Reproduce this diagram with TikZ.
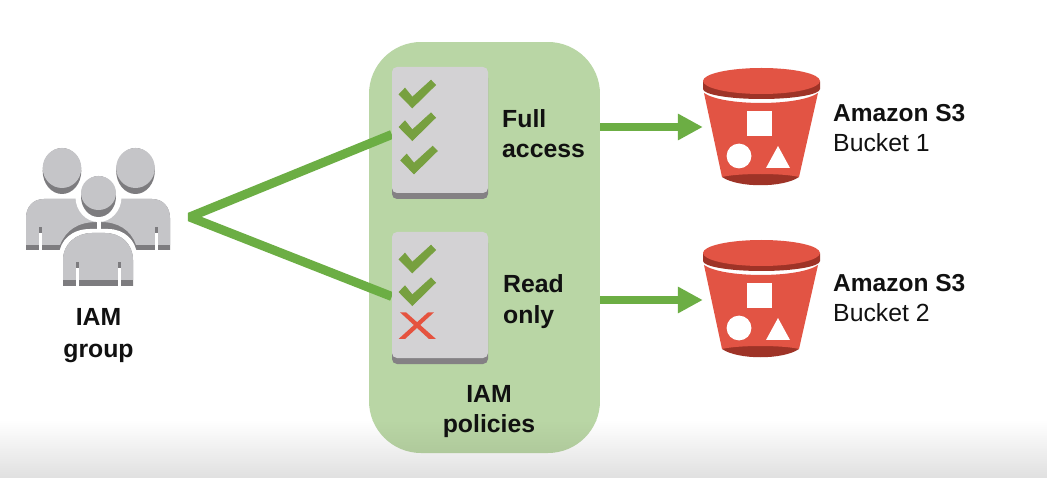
\documentclass[tikz,border=0pt]{standalone}
\usepackage{fontspec}
\setmainfont{Liberation Sans}
\usetikzlibrary{arrows.meta}
\definecolor{panelgreen}{HTML}{B9D6A5}
\definecolor{panelgreenb}{HTML}{AFC99B}
\definecolor{linkgreen}{HTML}{6CAE44}
\definecolor{checkgreen}{HTML}{77A03F}
\definecolor{cardgrey}{HTML}{D3D2D4}
\definecolor{cardshade}{HTML}{848184}
\definecolor{crossred}{HTML}{E5533F}
\definecolor{bucketred}{HTML}{E25444}
\definecolor{bucketdark}{HTML}{9E3327}
\definecolor{peoplelight}{HTML}{C5C5C8}
\definecolor{peopledark}{HTML}{7D7C7F}
\definecolor{floorgrey}{HTML}{E0E0E0}
\definecolor{textblack}{HTML}{111111}
\tikzset{
  x=1pt,y=-1pt,
  labeltext/.style={inner sep=0pt,text=textblack,font=\fontsize{24.8}{30.2}\selectfont,align=left},
  boldlabel/.style={labeltext,font=\fontsize{24.8}{30.2}\selectfont\bfseries},
  link/.style={linkgreen,line width=9pt},
  arrowlink/.style={linkgreen,line width=8.5pt,-{Triangle[length=25pt,width=25pt]}},
  cardbox/.style={draw=none,fill=none,minimum width=96pt,minimum height=132pt,inner sep=0pt},
  bucketbox/.style={draw=none,fill=none,minimum width=117pt,minimum height=117pt,inner sep=0pt},
}
\newcommand{\cardart}[2]{% x y top-left
  \begin{scope}[shift={(#1,#2)}]
    \fill[cardshade,rounded corners=5pt] (0,6) rectangle (96,132);
    \fill[cardgrey,rounded corners=5pt] (0,0) rectangle (96,126);
  \end{scope}}
\newcommand{\tickart}[2]{% x y of the tick's bottom vertex
  \filldraw[fill=checkgreen,draw=checkgreen,line width=.8pt,shift={(#1,#2)}] (0,-.5) -- (-13.2,-14) -- (-7.3,-20) -- (0,-11) -- (18.7,-28) -- (23.2,-23.3) -- cycle;}
\newcommand{\bucketart}[2]{%
  \begin{scope}[shift={(#1,#2)}]
    % bottom rim
    \fill[bucketdark] (19,109) -- (22,100) -- (94,100) -- (96,109) .. controls (80,120) and (35,120) .. (19,109) -- cycle;
    % body
    \fill[bucketred] (1,25) .. controls (20,38.3) and (96,38.3) .. (115,25) -- (96,109) .. controls (80,105) and (35,105) .. (19,109) -- cycle;
    % lid
    \fill[bucketdark] (0,13.5) -- (0,21) arc[start angle=180,end angle=0,x radius=58.5,y radius=10] -- (117,13.5) -- cycle;
    \fill[bucketred] (58.5,13) ellipse[x radius=58.5,y radius=13];
    % symbols
    \fill[white] (44,43) rectangle (69,68);
    \fill[white] (36,88) circle[radius=12.4];
    \fill[white] (63,100) -- (87,100) -- (75,78) -- cycle;
  \end{scope}}
\begin{document}
\begin{tikzpicture}
\useasboundingbox (0,0) rectangle (1047,478);
\fill[white] (0,0) rectangle (1047,478);
\shade[top color=white,bottom color=floorgrey] (0,420) rectangle (1047,478);
% policy panel
\begin{scope}
  \clip[rounded corners=52pt] (369,42) rectangle (600,453);
  \fill[panelgreen] (369,42) rectangle (600,421);
  \shade[top color=panelgreen,bottom color=panelgreenb] (369,420) rectangle (600,453);
\end{scope}
\node[draw=none,fill=none,minimum width=231pt,minimum height=411pt,inner sep=0pt] (panel) at (484.5,247.5) {};
% people
\fill[peopledark] (62,171) ellipse[x radius=19.3,y radius=23];
\fill[peoplelight] (62,168) ellipse[x radius=19.3,y radius=20];
\fill[peopledark] (135.5,171) ellipse[x radius=19.3,y radius=23];
\fill[peoplelight] (135.5,168) ellipse[x radius=19.3,y radius=20];
\fill[peopledark] (26,250) -- (26,218) .. controls (26,207) and (33,199) .. (44,199) -- (78,199) -- (97,222) -- (97,230) -- (97,250) -- cycle;
\fill[peoplelight] (26,245) -- (26,218) .. controls (26,207) and (33,199) .. (44,199) -- (78,199) -- (97,222) .. controls (78,222) and (66,230) .. (60,245) -- cycle;
\fill[peopledark] (170,250) -- (170,218) .. controls (170,207) and (163,199) .. (152,199) -- (118,199) -- (101,222) -- (101,250) -- cycle;
\fill[peoplelight] (170,245) -- (170,218) .. controls (170,207) and (163,199) .. (152,199) -- (118,199) -- (101,222) .. controls (118,222) and (131,230) .. (136,245) -- cycle;
\fill[white] (39,233) rectangle (42,250);
\fill[peopledark] (39,227) rectangle (42,233);
\fill[white] (155,233) rectangle (158,250);
\fill[peopledark] (155,227) rectangle (158,233);
% white halo round the front person
\fill[white] (98.5,197) ellipse[x radius=23,y radius=25];
\fill[white] (59,252) -- (59,255) .. controls (60,240) and (72,229) .. (90,229) -- (108,229) .. controls (124,229) and (136,240) .. (137,255) -- (137,290) -- (59,290) -- cycle;
\fill[white] (97,215) rectangle (100.6,232);
% front person
\fill[peopledark] (98.5,196.5) ellipse[x radius=17.5,y radius=20.5];
\fill[peoplelight] (98.5,193) ellipse[x radius=17.5,y radius=17];
\fill[peopledark] (63,286) -- (63,260) .. controls (63,244) and (76,233) .. (92,233) -- (105,233) .. controls (121,233) and (133,244) .. (133,260) -- (133,286) -- cycle;
\fill[peoplelight] (63,280) -- (63,260) .. controls (63,244) and (76,233) .. (92,233) -- (105,233) .. controls (121,233) and (133,244) .. (133,260) -- (133,280) -- cycle;
\fill[white] (76,268) rectangle (79,286);
\fill[peopledark] (76,262) rectangle (79,268);
\fill[white] (118,268) rectangle (121,286);
\fill[peopledark] (118,262) rectangle (121,268);
\node[boldlabel,align=center,font=\fontsize{24.8}{32}\selectfont\bfseries] (group) at (98.5,335.5) {IAM\\group};
% connectors to the cards (the cards sit on top of their ends)
\node[cardbox] (card1) at (440,133) {};
\node[cardbox] (card2) at (440,298) {};
\coordinate (apex) at (189.6,217);
\draw[link,line join=bevel] ([yshift=-1.5pt]card1.west) -- (apex) -- ([yshift=1.5pt]card2.west);
% cards
\cardart{392}{67}
\cardart{392}{232}
\tickart{412.3}{108.3}
\tickart{412.3}{141}
\tickart{414}{174.3}
\tickart{412.3}{273.3}
\tickart{412.3}{306}
\fill[crossred] (400,312.3) -- (406,312.3) -- (436,339) -- (429,339) -- cycle;
\fill[crossred] (434,312.3) -- (428,312.3) -- (398.5,339) -- (405,339) -- cycle;
\node[boldlabel,anchor=west] (full) at (502,134) {Full\\access};
\node[boldlabel,anchor=west] (read) at (503,301.5) {Read\\only};
\node[boldlabel,align=center] (policies) at (489,411.5) {IAM\\policies};
% buckets
\node[bucketbox] (bucket1) at (761.5,127) {};
\node[bucketbox] (bucket2) at (761.5,300) {};
\bucketart{703}{68}
\bucketart{703}{240}
\draw[arrowlink] (panel.east |- bucket1.west) -- (bucket1.west);
\draw[arrowlink] (panel.east |- bucket2.west) -- (bucket2.west);
\node[labeltext,anchor=west] (s1) at (833,128) {{\fontsize{24.5}{30.2}\selectfont\bfseries Amazon S3}\\Bucket 1};
\node[labeltext,anchor=west] (s2) at (833,298) {{\fontsize{24.5}{30.2}\selectfont\bfseries Amazon S3}\\Bucket 2};
\end{tikzpicture}
\end{document}
